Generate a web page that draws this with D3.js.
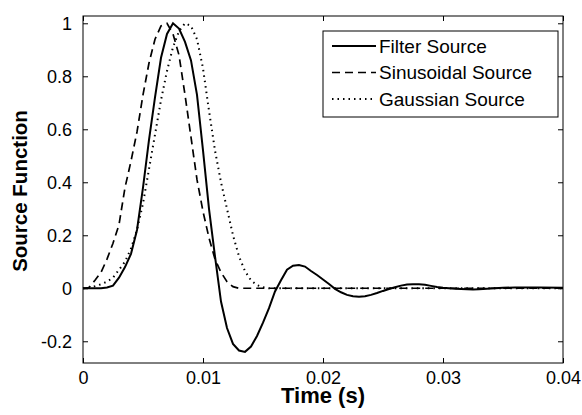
<!DOCTYPE html>
<html>
<head>
<meta charset="utf-8">
<script src="https://cdn.jsdelivr.net/npm/d3@7"></script>
<style>
  body { margin: 0; background: #fff; }
  text { font-family: Arial, "Liberation Sans", sans-serif; }
</style>
</head>
<body>
<div id="chart"></div>
<script>

// time (s) and values
var tFilter = [0, 0.0005, 0.001, 0.0015, 0.002, 0.0025, 0.003, 0.0035, 0.004, 0.0045, 0.005, 0.0055, 0.006, 0.0065, 0.007, 0.0075, 0.008, 0.0085, 0.009, 0.0095, 0.01, 0.0105, 0.011, 0.0115, 0.012, 0.0125, 0.013, 0.0135, 0.014, 0.0145, 0.015, 0.0155, 0.016, 0.0165, 0.017, 0.0175, 0.018, 0.0185, 0.019, 0.0195, 0.02, 0.0205, 0.021, 0.0215, 0.022, 0.0225, 0.023, 0.0235, 0.024, 0.0245, 0.025, 0.0255, 0.026, 0.0265, 0.027, 0.0275, 0.028, 0.0285, 0.029, 0.0295, 0.03, 0.031, 0.032, 0.0325, 0.033, 0.034, 0.035, 0.036, 0.038, 0.04];
var filterSource = [0, 0, 0, 0, 0.003, 0.01, 0.04, 0.08, 0.13, 0.22, 0.38, 0.56, 0.72, 0.87, 0.96, 1.0, 0.98, 0.93, 0.86, 0.73, 0.52, 0.30, 0.12, -0.05, -0.15, -0.21, -0.235, -0.24, -0.22, -0.18, -0.13, -0.075, -0.012, 0.03, 0.07, 0.085, 0.088, 0.082, 0.065, 0.05, 0.033, 0.016, -0.002, -0.015, -0.025, -0.03, -0.032, -0.03, -0.025, -0.018, -0.01, -0.003, 0.004, 0.01, 0.014, 0.015, 0.015, 0.013, 0.009, 0.005, 0.002, -0.002, -0.004, -0.005, -0.004, -0.001, 0.002, 0.003, 0.003, 0.002];

var tSinus = [0, 0.0005, 0.001, 0.0015, 0.002, 0.0025, 0.003, 0.0035, 0.004, 0.0045, 0.005, 0.0055, 0.006, 0.0065, 0.007, 0.0075, 0.008, 0.0085, 0.009, 0.0095, 0.01, 0.0105, 0.011, 0.0115, 0.012, 0.0125, 0.013, 0.04];
var sinusoidalSource = [0, 0.003, 0.03, 0.06, 0.11, 0.17, 0.24, 0.38, 0.48, 0.59, 0.73, 0.85, 0.94, 0.99, 1.0, 0.96, 0.88, 0.73, 0.57, 0.41, 0.29, 0.19, 0.11, 0.06, 0.025, 0.006, 0, 0];

var tGauss = [0, 0.0005, 0.001, 0.0015, 0.002, 0.0025, 0.003, 0.0035, 0.004, 0.0045, 0.005, 0.0055, 0.006, 0.0065, 0.007, 0.0075, 0.008, 0.0085, 0.009, 0.0095, 0.01, 0.0105, 0.011, 0.0115, 0.012, 0.0125, 0.013, 0.0135, 0.014, 0.0145, 0.015, 0.0155, 0.04];
var gaussianSource = [0, 0.002, 0.008, 0.015, 0.025, 0.04, 0.07, 0.10, 0.15, 0.22, 0.32, 0.45, 0.58, 0.71, 0.82, 0.91, 0.97, 1.0, 0.99, 0.94, 0.83, 0.67, 0.52, 0.40, 0.30, 0.20, 0.12, 0.065, 0.03, 0.012, 0.004, 0, 0];

var xTicks = [0, 0.01, 0.02, 0.03, 0.04];
var yTicks = [-0.2, 0, 0.2, 0.4, 0.6, 0.8, 1];
var seriesNames = ["Filter Source", "Sinusoidal Source", "Gaussian Source"];

var width = 582, height = 415;
var pLeft = 83, pRight = 563, pTop = 16, pBottom = 363;

var svg = d3.select("#chart")
	.append("svg")
	.attr("width", width)
	.attr("height", height);

var x = d3.scaleLinear().domain([0, 0.04]).range([pLeft, pRight]);
var y = d3.scaleLinear().domain([-0.282, 1.0275]).range([pBottom, pTop]);

// axes, ticks pointing inwards like matlab, plain hyphen for minus
var fmt = function(d){ return String(+d.toFixed(4)); };

svg.append("g")
	.attr("transform", "translate(0," + pBottom + ")")
	.call(d3.axisBottom(x).tickValues(xTicks).tickSize(-5).tickSizeOuter(0).tickPadding(8).tickFormat(fmt))
	.call(function(g){ g.select(".domain").remove(); })
	.selectAll("text").attr("font-size", 18).attr("font-family", "Arial, 'Liberation Sans', sans-serif");

svg.append("g")
	.attr("transform", "translate(0," + pTop + ")")
	.call(d3.axisTop(x).tickValues(xTicks).tickSize(-5).tickSizeOuter(0).tickFormat(""))
	.call(function(g){ g.select(".domain").remove(); });

svg.append("g")
	.attr("transform", "translate(" + pLeft + ",0)")
	.call(d3.axisLeft(y).tickValues(yTicks).tickSize(-5).tickSizeOuter(0).tickPadding(11).tickFormat(fmt))
	.call(function(g){ g.select(".domain").remove(); })
	.selectAll("text").attr("font-size", 18).attr("font-family", "Arial, 'Liberation Sans', sans-serif");

svg.append("g")
	.attr("transform", "translate(" + pRight + ",0)")
	.call(d3.axisRight(y).tickValues(yTicks).tickSize(-5).tickSizeOuter(0).tickFormat(""))
	.call(function(g){ g.select(".domain").remove(); });

svg.selectAll(".tick line").attr("stroke", "#000");

svg.append("rect")
	.attr("x", pLeft).attr("y", pTop)
	.attr("width", pRight - pLeft).attr("height", pBottom - pTop)
	.attr("fill", "none").attr("stroke", "#000").attr("stroke-width", 1);

// the three curves
var line = d3.line()
	.x(function(d){ return x(d[0]); })
	.y(function(d){ return y(d[1]); });

var series = [
	{ t: tFilter, v: filterSource, dash: null, w: 2 },
	{ t: tSinus, v: sinusoidalSource, dash: "8,5", w: 1.7 },
	{ t: tGauss, v: gaussianSource, dash: "1.5,4", w: 2 }
];

series.forEach(function(s){
	svg.append("path")
		.datum(d3.zip(s.t, s.v))
		.attr("d", line)
		.attr("fill", "none")
		.attr("stroke", "#000")
		.attr("stroke-width", s.w)
		.attr("stroke-dasharray", s.dash);
});

// legend
var lg = svg.append("g");
lg.append("rect")
	.attr("x", 323).attr("y", 31).attr("width", 235).attr("height", 86)
	.attr("fill", "#fff").attr("stroke", "#000").attr("stroke-width", 1);

seriesNames.forEach(function(name, i){
	var ly = 46 + i * 26.5;
	lg.append("line")
		.attr("x1", 332).attr("x2", 376).attr("y1", ly).attr("y2", ly)
		.attr("stroke", "#000").attr("stroke-width", series[i].w)
		.attr("stroke-dasharray", series[i].dash);
	lg.append("text")
		.attr("x", 379).attr("y", ly).attr("dy", "0.35em")
		.attr("font-size", 19)
		.text(name);
});

// axis titles
svg.append("text")
	.attr("x", 323).attr("y", 403)
	.attr("text-anchor", "middle")
	.attr("font-size", 22).attr("font-weight", "bold")
	.text("Time (s)");

svg.append("text")
	.attr("transform", "translate(27,191) rotate(-90)")
	.attr("text-anchor", "middle")
	.attr("font-size", 20.5).attr("font-weight", "bold")
	.text("Source Function");

</script>
</body>
</html>
